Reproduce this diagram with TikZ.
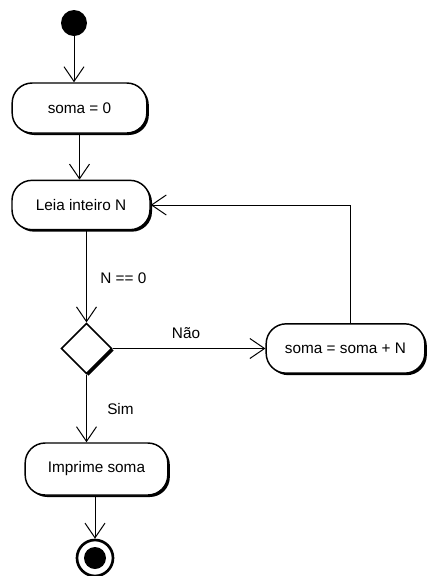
\documentclass[tikz,border=0pt]{standalone}
\usepackage{fontspec}
\setmainfont{Liberation Sans}
\usetikzlibrary{shapes.geometric, arrows.meta, shadows}
\tikzstyle{act}=[shape=rectangle, rounded corners=15pt, draw, line width=1.1pt, fill=white, inner sep=0, drop shadow={shadow xshift=1.5pt, shadow yshift=-1.5pt, fill=black, opacity=1}, font=\fontsize{11.5}{13}\selectfont]
\tikzstyle{dec}=[shape=diamond, aspect=1, draw, line width=1.1pt, fill=white, inner sep=0, minimum width=38pt, minimum height=38pt, drop shadow={shadow xshift=1.5pt, shadow yshift=-1.5pt, fill=black, opacity=1}]
\tikzstyle{lbl}=[font=\fontsize{11.5}{13}\selectfont, inner sep=0]
\tikzstyle{seta}=[-{Straight Barb[length=11pt, width=15pt, line width=0.75pt]}, line width=0.75pt]

\begin{document}
\begin{tikzpicture}[x=0.75pt, y=-0.75pt]
\useasboundingbox (0,0) rectangle (427,576);
\node at (74,23)[shape=circle, fill=black, minimum size=19.5pt, inner sep=0](ini){};
\node at (79.5,108)[act, minimum width=101pt, minimum height=37.5pt](s0){soma = 0};
\node at (81,205)[act, minimum width=103.5pt, minimum height=37pt](le){Leia inteiro N};
\node at (86.5,348.5)[dec](dec){};
\node at (345.5,348.5)[act, minimum width=119pt, minimum height=37pt](sm){soma = soma + N};
\node at (96.5,469)[act, minimum width=107pt, minimum height=39pt](im){Imprime soma};
\node at (95,558)[shape=circle, draw, line width=2pt, fill=white, minimum size=27pt, inner sep=0](fim){};
\node at (fim)[shape=circle, fill=black, minimum size=16.5pt, inner sep=0](fim2){};
\node at (100,278)[lbl, anchor=west](cond){N == 0};
\node at (186,333)[lbl](nao){Não};
\node at (107,409)[lbl, anchor=west](sim){Sim};
\draw[seta] (ini) -- (ini |- s0.north);
\draw[seta] (s0) -- (s0 |- le.north);
\draw[seta] (le.south -| dec) -- (dec.north);
\draw[seta] (dec.east) -- (sm.west);
\draw[seta] ([xshift=3.4pt]sm.north) |- (le.east);
\draw[seta] (dec.south) -- (dec.south |- im.north);
\draw[seta] (im.south -| fim) -- (fim.north);
\end{tikzpicture}
\end{document}
